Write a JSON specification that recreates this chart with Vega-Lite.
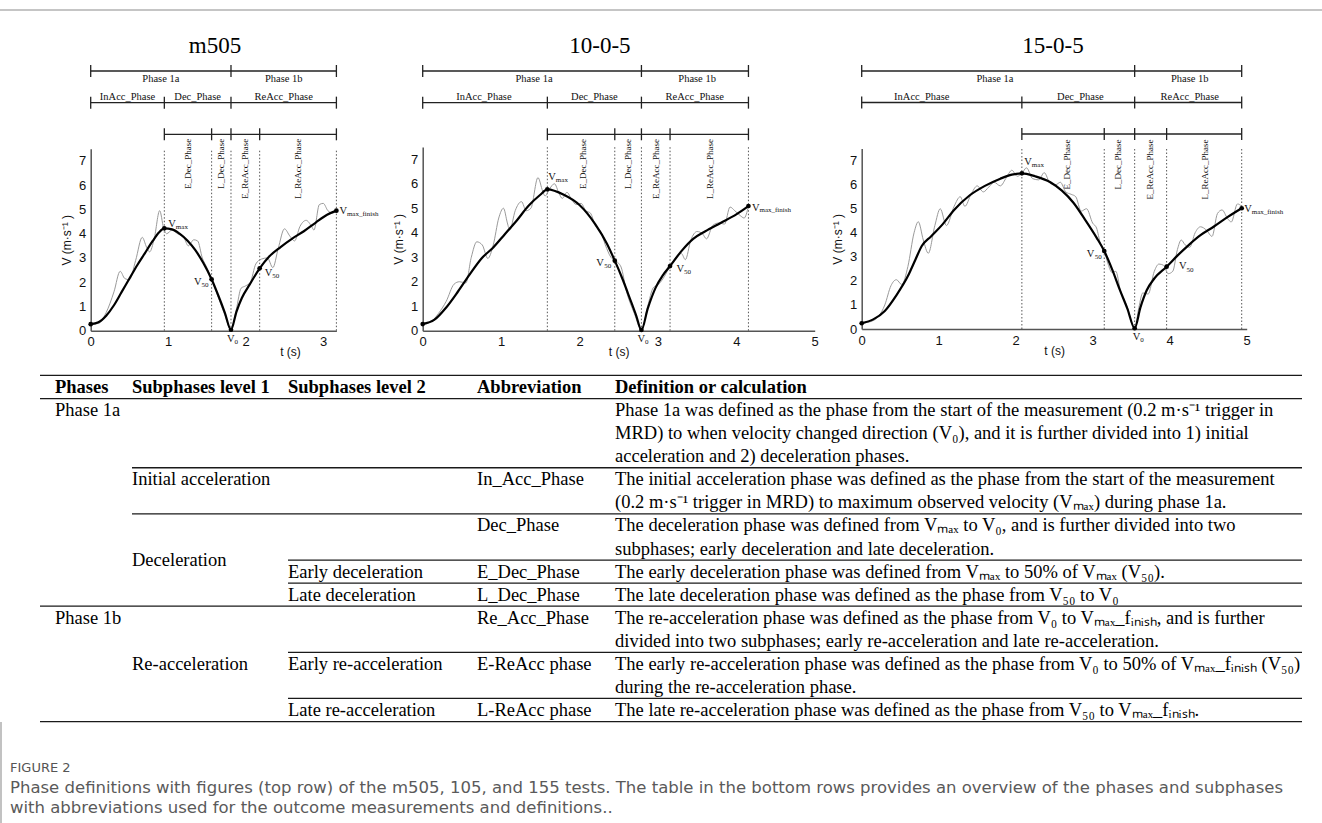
{
"$schema": "https://vega.github.io/schema/vega-lite/v6.json",
"width": 1322,
"height": 823,
"autosize": {"type": "none"},
"padding": 0,
"background": "white",
"config": {
  "view": {"stroke": null},
  "axis": {"grid": false, "ticks": false, "domainColor": "#555", "domainWidth": 1.5, "labelFont": "Liberation Sans", "labelFontSize": 13, "labelColor": "#111", "labelPadding": 5, "labelFlush": false, "titleFont": "Liberation Sans", "titleFontSize": 12, "titleFontWeight": "normal", "titleColor": "#111"},
  "text": {"font": "Liberation Serif", "color": "#111"}
},
"datasets": {
  "p1": [
    {"kind":"smooth","t":0,"v":0.27},{"kind":"smooth","t":0.1,"v":0.35},{"kind":"smooth","t":0.2,"v":0.62},{"kind":"smooth","t":0.3,"v":1.05},{"kind":"smooth","t":0.4,"v":1.6},{"kind":"smooth","t":0.5,"v":2.15},{"kind":"smooth","t":0.6,"v":2.7},{"kind":"smooth","t":0.7,"v":3.2},{"kind":"smooth","t":0.8,"v":3.7},{"kind":"smooth","t":0.88,"v":4.05},{"kind":"smooth","t":0.95,"v":4.22},{"kind":"smooth","t":1.05,"v":4.18},{"kind":"smooth","t":1.15,"v":3.99},{"kind":"smooth","t":1.25,"v":3.71},{"kind":"smooth","t":1.35,"v":3.32},{"kind":"smooth","t":1.45,"v":2.81},{"kind":"smooth","t":1.56,"v":2.12},{"kind":"smooth","t":1.65,"v":1.42},{"kind":"smooth","t":1.73,"v":0.75},{"kind":"smooth","t":1.81,"v":0.04},{"kind":"smooth","t":1.88,"v":0.78},{"kind":"smooth","t":1.95,"v":1.35},{"kind":"smooth","t":2.05,"v":1.9},{"kind":"smooth","t":2.18,"v":2.57},{"kind":"smooth","t":2.3,"v":3.05},{"kind":"smooth","t":2.45,"v":3.45},{"kind":"smooth","t":2.6,"v":3.8},{"kind":"smooth","t":2.75,"v":4.1},{"kind":"smooth","t":2.9,"v":4.45},{"kind":"smooth","t":3.05,"v":4.78},{"kind":"smooth","t":3.17,"v":4.95},
    {"kind":"raw","t":0,"v":0.27},{"kind":"raw","t":0.1,"v":0.3},{"kind":"raw","t":0.2,"v":0.75},{"kind":"raw","t":0.3,"v":1.6},{"kind":"raw","t":0.38,"v":2.45},{"kind":"raw","t":0.44,"v":2.15},{"kind":"raw","t":0.5,"v":2.1},{"kind":"raw","t":0.58,"v":2.9},{"kind":"raw","t":0.665,"v":3.85},{"kind":"raw","t":0.72,"v":3.45},{"kind":"raw","t":0.76,"v":3.25},{"kind":"raw","t":0.82,"v":3.8},{"kind":"raw","t":0.89,"v":4.95},{"kind":"raw","t":0.94,"v":4.25},{"kind":"raw","t":0.98,"v":4.0},{"kind":"raw","t":1.05,"v":4.15},{"kind":"raw","t":1.12,"v":4.0},{"kind":"raw","t":1.2,"v":3.85},{"kind":"raw","t":1.26,"v":3.5},{"kind":"raw","t":1.33,"v":3.75},{"kind":"raw","t":1.38,"v":3.7},{"kind":"raw","t":1.44,"v":3.0},{"kind":"raw","t":1.5,"v":2.6},{"kind":"raw","t":1.56,"v":2.1},{"kind":"raw","t":1.65,"v":1.35},{"kind":"raw","t":1.73,"v":0.65},{"kind":"raw","t":1.81,"v":0.04},{"kind":"raw","t":1.88,"v":0.9},{"kind":"raw","t":1.94,"v":1.75},{"kind":"raw","t":2.0,"v":1.85},{"kind":"raw","t":2.06,"v":2.0},{"kind":"raw","t":2.13,"v":2.75},{"kind":"raw","t":2.2,"v":2.95},{"kind":"raw","t":2.28,"v":3.0},{"kind":"raw","t":2.35,"v":2.6},{"kind":"raw","t":2.42,"v":3.4},{"kind":"raw","t":2.5,"v":4.2},{"kind":"raw","t":2.57,"v":3.9},{"kind":"raw","t":2.63,"v":3.7},{"kind":"raw","t":2.7,"v":4.3},{"kind":"raw","t":2.78,"v":4.55},{"kind":"raw","t":2.85,"v":4.3},{"kind":"raw","t":2.88,"v":4.15},{"kind":"raw","t":2.95,"v":5.2},{"kind":"raw","t":3.0,"v":5.25},{"kind":"raw","t":3.06,"v":4.95},{"kind":"raw","t":3.12,"v":4.85},{"kind":"raw","t":3.17,"v":4.95},
    {"kind":"bound","t":0.95},{"kind":"bound","t":1.56},{"kind":"bound","t":1.81},{"kind":"bound","t":2.18},{"kind":"bound","t":3.17},
    {"kind":"phase","t":1.255,"label":"E_Dec_Phase"},{"kind":"phase","t":1.685,"label":"L_Dec_Phase"},{"kind":"phase","t":1.995,"label":"E_ReAcc_Phase"},{"kind":"phase","t":2.675,"label":"L_ReAcc_Phase"},
    {"kind":"pt","t":0,"v":0.27,"pos":"none"},{"kind":"pt","t":0.95,"v":4.22,"pos":"ur","sub":"max"},{"kind":"pt","t":1.56,"v":2.12,"pos":"l","sub":"50"},{"kind":"pt","t":1.81,"v":0.04,"pos":"b","sub":"0"},{"kind":"pt","t":2.18,"v":2.57,"pos":"rd","sub":"50"},{"kind":"pt","t":3.17,"v":4.95,"pos":"r","sub":"max_finish"}
  ],
  "b1": [
    {"kind":"seg","level":1,"t":0,"t2":3.17},{"kind":"seg","level":2,"t":0,"t2":3.17},{"kind":"seg","level":3,"t":0.95,"t2":3.17},
    {"kind":"tick","level":1,"t":0},{"kind":"tick","level":1,"t":1.81},{"kind":"tick","level":1,"t":3.17},
    {"kind":"tick","level":2,"t":0},{"kind":"tick","level":2,"t":0.95},{"kind":"tick","level":2,"t":1.81},{"kind":"tick","level":2,"t":3.17},
    {"kind":"tick","level":3,"t":0.95},{"kind":"tick","level":3,"t":1.56},{"kind":"tick","level":3,"t":1.81},{"kind":"tick","level":3,"t":2.18},{"kind":"tick","level":3,"t":3.17},
    {"kind":"lab","level":1,"t":0.905,"label":"Phase 1a"},{"kind":"lab","level":1,"t":2.49,"label":"Phase 1b"},
    {"kind":"lab","level":2,"t":0.475,"label":"InAcc_Phase"},{"kind":"lab","level":2,"t":1.38,"label":"Dec_Phase"},{"kind":"lab","level":2,"t":2.49,"label":"ReAcc_Phase"}
  ],
  "p2": [
    {"kind":"smooth","t":0,"v":0.27},{"kind":"smooth","t":0.15,"v":0.45},{"kind":"smooth","t":0.3,"v":0.95},{"kind":"smooth","t":0.45,"v":1.6},{"kind":"smooth","t":0.6,"v":2.3},{"kind":"smooth","t":0.75,"v":2.95},{"kind":"smooth","t":0.9,"v":3.4},{"kind":"smooth","t":1.05,"v":3.95},{"kind":"smooth","t":1.2,"v":4.5},{"kind":"smooth","t":1.35,"v":5.1},{"kind":"smooth","t":1.5,"v":5.55},{"kind":"smooth","t":1.59,"v":5.77},{"kind":"smooth","t":1.8,"v":5.55},{"kind":"smooth","t":2.0,"v":5.13},{"kind":"smooth","t":2.2,"v":4.35},{"kind":"smooth","t":2.35,"v":3.55},{"kind":"smooth","t":2.45,"v":2.86},{"kind":"smooth","t":2.55,"v":2.1},{"kind":"smooth","t":2.65,"v":1.25},{"kind":"smooth","t":2.72,"v":0.65},{"kind":"smooth","t":2.79,"v":0.03},{"kind":"smooth","t":2.87,"v":0.9},{"kind":"smooth","t":2.97,"v":1.75},{"kind":"smooth","t":3.06,"v":2.25},{"kind":"smooth","t":3.155,"v":2.64},{"kind":"smooth","t":3.3,"v":3.25},{"kind":"smooth","t":3.45,"v":3.75},{"kind":"smooth","t":3.6,"v":4.05},{"kind":"smooth","t":3.8,"v":4.4},{"kind":"smooth","t":4.0,"v":4.75},{"kind":"smooth","t":4.155,"v":5.09},
    {"kind":"raw","t":0,"v":0.27},{"kind":"raw","t":0.1,"v":0.35},{"kind":"raw","t":0.2,"v":0.7},{"kind":"raw","t":0.3,"v":1.2},{"kind":"raw","t":0.4,"v":1.9},{"kind":"raw","t":0.47,"v":2.0},{"kind":"raw","t":0.55,"v":1.95},{"kind":"raw","t":0.62,"v":3.0},{"kind":"raw","t":0.69,"v":3.63},{"kind":"raw","t":0.76,"v":3.5},{"kind":"raw","t":0.83,"v":2.95},{"kind":"raw","t":0.9,"v":3.5},{"kind":"raw","t":0.97,"v":4.6},{"kind":"raw","t":1.03,"v":5.0},{"kind":"raw","t":1.08,"v":4.4},{"kind":"raw","t":1.11,"v":4.1},{"kind":"raw","t":1.18,"v":4.9},{"kind":"raw","t":1.26,"v":5.27},{"kind":"raw","t":1.32,"v":4.9},{"kind":"raw","t":1.38,"v":5.0},{"kind":"raw","t":1.47,"v":6.25},{"kind":"raw","t":1.53,"v":5.7},{"kind":"raw","t":1.56,"v":5.5},{"kind":"raw","t":1.62,"v":5.8},{"kind":"raw","t":1.68,"v":6.0},{"kind":"raw","t":1.74,"v":5.6},{"kind":"raw","t":1.78,"v":5.4},{"kind":"raw","t":1.84,"v":5.65},{"kind":"raw","t":1.9,"v":5.35},{"kind":"raw","t":1.96,"v":5.15},{"kind":"raw","t":2.02,"v":5.2},{"kind":"raw","t":2.08,"v":4.9},{"kind":"raw","t":2.14,"v":4.8},{"kind":"raw","t":2.2,"v":4.3},{"kind":"raw","t":2.27,"v":4.05},{"kind":"raw","t":2.33,"v":3.5},{"kind":"raw","t":2.4,"v":3.0},{"kind":"raw","t":2.45,"v":2.86},{"kind":"raw","t":2.5,"v":2.75},{"kind":"raw","t":2.53,"v":2.6},{"kind":"raw","t":2.6,"v":1.6},{"kind":"raw","t":2.7,"v":0.7},{"kind":"raw","t":2.79,"v":0.03},{"kind":"raw","t":2.87,"v":1.0},{"kind":"raw","t":2.94,"v":1.75},{"kind":"raw","t":3.01,"v":1.9},{"kind":"raw","t":3.08,"v":2.2},{"kind":"raw","t":3.155,"v":2.64},{"kind":"raw","t":3.22,"v":2.95},{"kind":"raw","t":3.3,"v":3.15},{"kind":"raw","t":3.35,"v":2.9},{"kind":"raw","t":3.42,"v":3.7},{"kind":"raw","t":3.5,"v":4.05},{"kind":"raw","t":3.57,"v":3.95},{"kind":"raw","t":3.62,"v":3.75},{"kind":"raw","t":3.7,"v":4.3},{"kind":"raw","t":3.78,"v":4.4},{"kind":"raw","t":3.85,"v":4.35},{"kind":"raw","t":3.92,"v":5.05},{"kind":"raw","t":3.98,"v":4.9},{"kind":"raw","t":4.05,"v":4.7},{"kind":"raw","t":4.1,"v":4.6},{"kind":"raw","t":4.155,"v":5.09},
    {"kind":"bound","t":1.59},{"kind":"bound","t":2.45},{"kind":"bound","t":2.79},{"kind":"bound","t":3.155},{"kind":"bound","t":4.155},
    {"kind":"phase","t":2.04,"label":"E_Dec_Phase"},{"kind":"phase","t":2.62,"label":"L_Dec_Phase"},{"kind":"phase","t":2.97,"label":"E_ReAcc_Phase"},{"kind":"phase","t":3.66,"label":"L_ReAcc_Phase"},
    {"kind":"pt","t":0,"v":0.27,"pos":"none"},{"kind":"pt","t":1.59,"v":5.77,"pos":"ur","sub":"max"},{"kind":"pt","t":2.45,"v":2.86,"pos":"l","sub":"50"},{"kind":"pt","t":2.79,"v":0.03,"pos":"b","sub":"0"},{"kind":"pt","t":3.155,"v":2.64,"pos":"rd","sub":"50"},{"kind":"pt","t":4.155,"v":5.09,"pos":"r","sub":"max_finish"}
  ],
  "b2": [
    {"kind":"seg","level":1,"t":0,"t2":4.155},{"kind":"seg","level":2,"t":0,"t2":4.155},{"kind":"seg","level":3,"t":1.59,"t2":4.155},
    {"kind":"tick","level":1,"t":0},{"kind":"tick","level":1,"t":2.79},{"kind":"tick","level":1,"t":4.155},
    {"kind":"tick","level":2,"t":0},{"kind":"tick","level":2,"t":1.59},{"kind":"tick","level":2,"t":2.79},{"kind":"tick","level":2,"t":4.155},
    {"kind":"tick","level":3,"t":1.59},{"kind":"tick","level":3,"t":2.45},{"kind":"tick","level":3,"t":2.79},{"kind":"tick","level":3,"t":3.155},{"kind":"tick","level":3,"t":4.155},
    {"kind":"lab","level":1,"t":1.42,"label":"Phase 1a"},{"kind":"lab","level":1,"t":3.5,"label":"Phase 1b"},
    {"kind":"lab","level":2,"t":0.78,"label":"InAcc_Phase"},{"kind":"lab","level":2,"t":2.19,"label":"Dec_Phase"},{"kind":"lab","level":2,"t":3.47,"label":"ReAcc_Phase"}
  ],
  "p3": [
    {"kind":"smooth","t":0,"v":0.24},{"kind":"smooth","t":0.15,"v":0.4},{"kind":"smooth","t":0.3,"v":0.75},{"kind":"smooth","t":0.45,"v":1.4},{"kind":"smooth","t":0.6,"v":2.2},{"kind":"smooth","t":0.7,"v":2.9},{"kind":"smooth","t":0.78,"v":3.45},{"kind":"smooth","t":0.9,"v":3.85},{"kind":"smooth","t":1.05,"v":4.35},{"kind":"smooth","t":1.2,"v":4.95},{"kind":"smooth","t":1.4,"v":5.55},{"kind":"smooth","t":1.6,"v":5.95},{"kind":"smooth","t":1.8,"v":6.25},{"kind":"smooth","t":1.95,"v":6.42},{"kind":"smooth","t":2.08,"v":6.47},{"kind":"smooth","t":2.25,"v":6.35},{"kind":"smooth","t":2.45,"v":6.1},{"kind":"smooth","t":2.6,"v":5.75},{"kind":"smooth","t":2.75,"v":5.25},{"kind":"smooth","t":2.9,"v":4.55},{"kind":"smooth","t":3.05,"v":3.8},{"kind":"smooth","t":3.15,"v":3.24},{"kind":"smooth","t":3.25,"v":2.5},{"kind":"smooth","t":3.35,"v":1.65},{"kind":"smooth","t":3.45,"v":0.85},{"kind":"smooth","t":3.545,"v":0.03},{"kind":"smooth","t":3.62,"v":0.9},{"kind":"smooth","t":3.7,"v":1.6},{"kind":"smooth","t":3.8,"v":2.1},{"kind":"smooth","t":3.96,"v":2.59},{"kind":"smooth","t":4.1,"v":3.05},{"kind":"smooth","t":4.25,"v":3.5},{"kind":"smooth","t":4.4,"v":3.9},{"kind":"smooth","t":4.57,"v":4.25},{"kind":"smooth","t":4.75,"v":4.65},{"kind":"smooth","t":4.935,"v":5.02},
    {"kind":"raw","t":0,"v":0.24},{"kind":"raw","t":0.15,"v":0.35},{"kind":"raw","t":0.3,"v":1.0},{"kind":"raw","t":0.38,"v":1.8},{"kind":"raw","t":0.45,"v":2.05},{"kind":"raw","t":0.52,"v":1.85},{"kind":"raw","t":0.6,"v":2.6},{"kind":"raw","t":0.68,"v":4.0},{"kind":"raw","t":0.735,"v":4.46},{"kind":"raw","t":0.8,"v":3.7},{"kind":"raw","t":0.865,"v":3.15},{"kind":"raw","t":0.95,"v":4.3},{"kind":"raw","t":1.02,"v":5.0},{"kind":"raw","t":1.1,"v":4.3},{"kind":"raw","t":1.2,"v":5.1},{"kind":"raw","t":1.28,"v":5.5},{"kind":"raw","t":1.34,"v":5.1},{"kind":"raw","t":1.42,"v":5.6},{"kind":"raw","t":1.5,"v":5.95},{"kind":"raw","t":1.58,"v":5.7},{"kind":"raw","t":1.65,"v":5.9},{"kind":"raw","t":1.72,"v":6.1},{"kind":"raw","t":1.8,"v":5.95},{"kind":"raw","t":1.88,"v":6.3},{"kind":"raw","t":1.95,"v":6.6},{"kind":"raw","t":2.02,"v":6.35},{"kind":"raw","t":2.08,"v":6.47},{"kind":"raw","t":2.14,"v":6.7},{"kind":"raw","t":2.22,"v":6.25},{"kind":"raw","t":2.3,"v":6.2},{"kind":"raw","t":2.37,"v":6.5},{"kind":"raw","t":2.45,"v":6.05},{"kind":"raw","t":2.52,"v":6.0},{"kind":"raw","t":2.58,"v":6.1},{"kind":"raw","t":2.65,"v":5.7},{"kind":"raw","t":2.72,"v":5.6},{"kind":"raw","t":2.78,"v":5.5},{"kind":"raw","t":2.85,"v":4.9},{"kind":"raw","t":2.92,"v":5.0},{"kind":"raw","t":3.0,"v":4.4},{"kind":"raw","t":3.05,"v":4.2},{"kind":"raw","t":3.1,"v":3.55},{"kind":"raw","t":3.15,"v":3.24},{"kind":"raw","t":3.2,"v":2.7},{"kind":"raw","t":3.25,"v":2.35},{"kind":"raw","t":3.3,"v":2.4},{"kind":"raw","t":3.36,"v":1.6},{"kind":"raw","t":3.45,"v":0.9},{"kind":"raw","t":3.545,"v":0.03},{"kind":"raw","t":3.6,"v":0.9},{"kind":"raw","t":3.65,"v":1.5},{"kind":"raw","t":3.72,"v":1.45},{"kind":"raw","t":3.8,"v":2.4},{"kind":"raw","t":3.86,"v":2.7},{"kind":"raw","t":3.92,"v":2.65},{"kind":"raw","t":3.98,"v":2.3},{"kind":"raw","t":4.04,"v":2.4},{"kind":"raw","t":4.1,"v":3.3},{"kind":"raw","t":4.15,"v":3.7},{"kind":"raw","t":4.2,"v":3.5},{"kind":"raw","t":4.26,"v":3.4},{"kind":"raw","t":4.33,"v":4.0},{"kind":"raw","t":4.4,"v":4.25},{"kind":"raw","t":4.48,"v":4.1},{"kind":"raw","t":4.55,"v":3.85},{"kind":"raw","t":4.62,"v":4.8},{"kind":"raw","t":4.68,"v":4.95},{"kind":"raw","t":4.75,"v":4.6},{"kind":"raw","t":4.8,"v":4.45},{"kind":"raw","t":4.88,"v":5.2},{"kind":"raw","t":4.935,"v":5.1},
    {"kind":"bound","t":2.08},{"kind":"bound","t":3.15},{"kind":"bound","t":3.545},{"kind":"bound","t":3.96},{"kind":"bound","t":4.935},
    {"kind":"phase","t":2.66,"label":"E_Dec_Phase"},{"kind":"phase","t":3.33,"label":"L_Dec_Phase"},{"kind":"phase","t":3.745,"label":"E_ReAcc_Phase"},{"kind":"phase","t":4.46,"label":"L_ReAcc_Phase"},
    {"kind":"pt","t":0,"v":0.24,"pos":"none"},{"kind":"pt","t":2.08,"v":6.47,"pos":"ur","sub":"max"},{"kind":"pt","t":3.15,"v":3.24,"pos":"l","sub":"50"},{"kind":"pt","t":3.545,"v":0.03,"pos":"b","sub":"0"},{"kind":"pt","t":3.96,"v":2.59,"pos":"rd","sub":"50"},{"kind":"pt","t":4.935,"v":5.02,"pos":"r","sub":"max_finish"}
  ],
  "b3": [
    {"kind":"seg","level":1,"t":0,"t2":4.935},{"kind":"seg","level":2,"t":0,"t2":4.935},{"kind":"seg","level":3,"t":2.08,"t2":4.935},
    {"kind":"tick","level":1,"t":0},{"kind":"tick","level":1,"t":3.545},{"kind":"tick","level":1,"t":4.935},
    {"kind":"tick","level":2,"t":0},{"kind":"tick","level":2,"t":2.08},{"kind":"tick","level":2,"t":3.545},{"kind":"tick","level":2,"t":4.935},
    {"kind":"tick","level":3,"t":2.08},{"kind":"tick","level":3,"t":3.15},{"kind":"tick","level":3,"t":3.545},{"kind":"tick","level":3,"t":3.96},{"kind":"tick","level":3,"t":4.935},
    {"kind":"lab","level":1,"t":1.73,"label":"Phase 1a"},{"kind":"lab","level":1,"t":4.26,"label":"Phase 1b"},
    {"kind":"lab","level":2,"t":0.78,"label":"InAcc_Phase"},{"kind":"lab","level":2,"t":2.84,"label":"Dec_Phase"},{"kind":"lab","level":2,"t":4.26,"label":"ReAcc_Phase"}
  ],
  "table": [
    {"kind":"rule","c":0,"c2":6,"line":-0.5},{"kind":"rule","c":0,"c2":6,"line":0.5},{"kind":"rule","c":2,"c2":6,"line":3.5},{"kind":"rule","c":2,"c2":6,"line":5.5},{"kind":"rule","c":3,"c2":6,"line":7.5},{"kind":"rule","c":3,"c2":6,"line":8.5},{"kind":"rule","c":0,"c2":6,"line":9.5},{"kind":"rule","c":3,"c2":6,"line":11.5},{"kind":"rule","c":3,"c2":6,"line":13.5},{"kind":"rule","c":0,"c2":6,"line":14.5},
    {"kind":"head","c":1,"line":0,"text":"Phases"},{"kind":"head","c":2,"line":0,"text":"Subphases level 1"},{"kind":"head","c":3,"line":0,"text":"Subphases level 2"},{"kind":"head","c":4,"line":0,"text":"Abbreviation"},{"kind":"head","c":5,"line":0,"text":"Definition or calculation"},
    {"kind":"cell","c":1,"line":1,"text":"Phase 1a"},
    {"kind":"cell","c":5,"line":1,"text":"Phase 1a was defined as the phase from the start of the measurement  (0.2 m·s⁻¹ trigger in"},
    {"kind":"cell","c":5,"line":2,"text":"MRD) to when velocity changed direction (V₀), and it is further divided into 1) initial"},
    {"kind":"cell","c":5,"line":3,"text":"acceleration and 2) deceleration phases."},
    {"kind":"cell","c":2,"line":4,"text":"Initial acceleration"},
    {"kind":"cell","c":4,"line":4,"text":"In_Acc_Phase"},
    {"kind":"cell","c":5,"line":4,"text":"The initial acceleration phase was defined as the phase from the start of the measurement"},
    {"kind":"cell","c":5,"line":5,"text":"(0.2 m·s⁻¹ trigger in MRD) to maximum observed velocity (Vₘₐₓ) during phase 1a."},
    {"kind":"cell","c":4,"line":6,"text":"Dec_Phase"},
    {"kind":"cell","c":5,"line":6,"text":"The deceleration phase was defined from Vₘₐₓ to V₀, and is further divided into two"},
    {"kind":"cell","c":5,"line":7,"text":"subphases;  early deceleration and late deceleration."},
    {"kind":"cell","c":2,"line":7.5,"text":"Deceleration"},
    {"kind":"cell","c":3,"line":8,"text":"Early deceleration"},
    {"kind":"cell","c":4,"line":8,"text":"E_Dec_Phase"},
    {"kind":"cell","c":5,"line":8,"text":"The early deceleration phase was defined from Vₘₐₓ to 50% of Vₘₐₓ (V₅₀)."},
    {"kind":"cell","c":3,"line":9,"text":"Late deceleration"},
    {"kind":"cell","c":4,"line":9,"text":"L_Dec_Phase"},
    {"kind":"cell","c":5,"line":9,"text":"The late deceleration phase was defined as the phase from V₅₀ to V₀"},
    {"kind":"cell","c":1,"line":10,"text":"Phase 1b"},
    {"kind":"cell","c":4,"line":10,"text":"Re_Acc_Phase"},
    {"kind":"cell","c":5,"line":10,"text":"The re-acceleration phase was defined as the phase from V₀ to Vₘₐₓ_fᵢₙᵢₛₕ, and is further"},
    {"kind":"cell","c":5,"line":11,"text":"divided into two subphases; early re-acceleration and late re-acceleration."},
    {"kind":"cell","c":2,"line":12,"text":"Re-acceleration"},
    {"kind":"cell","c":3,"line":12,"text":"Early re-acceleration"},
    {"kind":"cell","c":4,"line":12,"text":"E-ReAcc phase"},
    {"kind":"cell","c":5,"line":12,"text":"The early re-acceleration phase was defined as the phase from V₀ to 50% of Vₘₐₓ_fᵢₙᵢₛₕ (V₅₀)"},
    {"kind":"cell","c":5,"line":13,"text":"during the re-acceleration phase."},
    {"kind":"cell","c":3,"line":14,"text":"Late re-acceleration"},
    {"kind":"cell","c":4,"line":14,"text":"L-ReAcc phase"},
    {"kind":"cell","c":5,"line":14,"text":"The late re-acceleration phase was defined as the phase from V₅₀ to Vₘₐₓ_fᵢₙᵢₛₕ."}
  ],
  "caption": [
    {"kind":"label","line":0,"text":"FIGURE 2"},
    {"kind":"body","line":1,"text":"Phase definitions with figures (top row) of the m505, 105, and 155 tests. The table in the bottom rows provides an overview of the phases and subphases"},
    {"kind":"body","line":2,"text":"with abbreviations used for the outcome measurements and definitions.."}
  ]
},
"resolve": {"scale": {"x": "independent", "y": "independent"}, "axis": {"x": "independent", "y": "independent"}},
"layer": [
  {"data": {"values": [{}]}, "mark": {"type": "rule", "color": "#8c8c8c", "strokeWidth": 1.2},
   "encoding": {"y": {"datum": 0, "type": "quantitative", "scale": {"domain": [0, 1], "range": [10, 11]}, "axis": null}}},
  {"data": {"values": [{}]}, "mark": {"type": "rule", "color": "#999", "strokeWidth": 1.2},
   "encoding": {"x": {"datum": 0, "type": "quantitative", "scale": {"domain": [0, 1], "range": [1, 2]}, "axis": null},
                "y": {"datum": 0, "type": "quantitative", "scale": {"domain": [0, 1], "range": [722, 823]}, "axis": null},
                "y2": {"datum": 1}}},

  {"data": {"values": [{"name": "m505"}]}, "mark": {"type": "text", "fontSize": 23, "baseline": "alphabetic", "color": "#000"},
   "encoding": {"x": {"datum": 1.604, "type": "quantitative", "scale": {"domain": [0, 3.17], "range": [90.7, 336.4]}, "axis": null},
                "y": {"datum": 0.444, "type": "quantitative", "scale": {"domain": [1, 3], "range": [71, 134.3]}, "axis": null},
                "text": {"field": "name"}}},
  {"data": {"name": "b1"},
   "encoding": {"x": {"field": "t", "type": "quantitative", "scale": {"domain": [0, 3.17], "range": [90.7, 336.4], "nice": false, "zero": false}, "axis": null},
                "y": {"field": "level", "type": "quantitative", "scale": {"domain": [1, 3], "range": [71, 134.3], "nice": false, "zero": false}, "axis": null}},
   "layer": [
     {"transform": [{"filter": "datum.kind==='seg'"}], "mark": {"type": "rule", "color": "#222", "strokeWidth": 1.3}, "encoding": {"x2": {"field": "t2"}}},
     {"transform": [{"filter": "datum.kind==='tick'"}], "mark": {"type": "tick", "orient": "vertical", "color": "#222", "size": 12, "thickness": 1.3, "opacity": 1}},
     {"transform": [{"filter": "datum.kind==='lab' && datum.level===1"}], "mark": {"type": "text", "fontSize": 10.5, "baseline": "alphabetic", "dy": 10.5}, "encoding": {"text": {"field": "label"}}},
     {"transform": [{"filter": "datum.kind==='lab' && datum.level===2"}], "mark": {"type": "text", "fontSize": 10.5, "baseline": "alphabetic", "dy": -2.7}, "encoding": {"text": {"field": "label"}}}
   ]},
  {"data": {"name": "p1"},
   "encoding": {"x": {"field": "t", "type": "quantitative", "scale": {"domain": [0, 3.17], "range": [90.7, 336.4], "nice": false, "zero": false}, "axis": null}},
   "layer": [
     {"transform": [{"filter": "datum.kind==='bound'"}], "mark": {"type": "rule", "color": "#444", "strokeWidth": 0.9, "strokeDash": [1.5, 2]},
      "encoding": {"y": {"datum": 0, "type": "quantitative", "scale": {"domain": [0, 7.5], "range": [330.7, 148.8], "nice": false, "zero": false}, "axis": null}, "y2": {"datum": 7.5}}},
     {"transform": [{"filter": "datum.kind==='phase'"}], "mark": {"type": "text", "angle": 270, "align": "right", "baseline": "middle", "dx": 10, "fontSize": 9},
      "encoding": {"y": {"datum": 7.5, "type": "quantitative", "scale": {"domain": [0, 7.5], "range": [330.7, 148.8], "nice": false, "zero": false}, "axis": null}, "text": {"field": "label"}}}
   ]},
  {"data": {"name": "p1"},
   "encoding": {
     "x": {"field": "t", "type": "quantitative", "scale": {"domain": [0, 3.17], "range": [90.7, 336.4], "nice": false, "zero": false}, "axis": {"orient": "bottom", "offset": -492.3, "values": [0, 1, 2, 3], "title": "t (s)", "titleX": 290, "titlePadding": -2}},
     "y": {"field": "v", "type": "quantitative", "scale": {"domain": [0, 7.5], "range": [330.7, 148.8], "nice": false, "zero": false}, "axis": {"orient": "left", "offset": -90.7, "values": [0, 1, 2, 3, 4, 5, 6, 7], "title": "V (m·s⁻¹ )", "titlePadding": 5}}},
   "layer": [
     {"transform": [{"filter": "datum.kind==='raw'"}], "mark": {"type": "line", "color": "#9a9a9a", "strokeWidth": 1, "interpolate": "monotone"}},
     {"transform": [{"filter": "datum.kind==='smooth'"}], "mark": {"type": "line", "color": "#000", "strokeWidth": 2.2, "interpolate": "monotone"}},
     {"transform": [{"filter": "datum.kind==='pt'"}], "mark": {"type": "point", "filled": true, "color": "#000", "size": 22, "opacity": 1}},
     {"transform": [{"filter": "datum.pos==='ur'"}], "mark": {"type": "text", "text": "V", "align": "left", "fontSize": 10.5, "dx": 4, "dy": -4}},
     {"transform": [{"filter": "datum.pos==='ur'"}], "mark": {"type": "text", "align": "left", "fontSize": 7, "dx": 11.5, "dy": -1}, "encoding": {"text": {"field": "sub"}}},
     {"transform": [{"filter": "datum.pos==='l'"}], "mark": {"type": "text", "text": "V", "align": "right", "fontSize": 10.5, "dx": -10, "dy": 3}},
     {"transform": [{"filter": "datum.pos==='l'"}], "mark": {"type": "text", "align": "right", "fontSize": 7, "dx": -3, "dy": 6}, "encoding": {"text": {"field": "sub"}}},
     {"transform": [{"filter": "datum.pos==='b'"}], "mark": {"type": "text", "text": "V", "align": "left", "fontSize": 10.5, "dx": -4, "dy": 9}},
     {"transform": [{"filter": "datum.pos==='b'"}], "mark": {"type": "text", "align": "left", "fontSize": 7, "dx": 3.5, "dy": 12}, "encoding": {"text": {"field": "sub"}}},
     {"transform": [{"filter": "datum.pos==='rd'"}], "mark": {"type": "text", "text": "V", "align": "left", "fontSize": 10.5, "dx": 5, "dy": 5}},
     {"transform": [{"filter": "datum.pos==='rd'"}], "mark": {"type": "text", "align": "left", "fontSize": 7, "dx": 12.5, "dy": 8}, "encoding": {"text": {"field": "sub"}}},
     {"transform": [{"filter": "datum.pos==='r'"}], "mark": {"type": "text", "text": "V", "align": "left", "fontSize": 10.5, "dx": 3, "dy": 0}},
     {"transform": [{"filter": "datum.pos==='r'"}], "mark": {"type": "text", "align": "left", "fontSize": 7, "dx": 10.5, "dy": 3}, "encoding": {"text": {"field": "sub"}}}
   ]},

  {"data": {"values": [{"name": "10-0-5"}]}, "mark": {"type": "text", "fontSize": 23, "baseline": "alphabetic", "color": "#000"},
   "encoding": {"x": {"datum": 2.261, "type": "quantitative", "scale": {"domain": [0, 5], "range": [422.7, 814.7]}, "axis": null},
                "y": {"datum": 0.444, "type": "quantitative", "scale": {"domain": [1, 3], "range": [71, 134.3]}, "axis": null},
                "text": {"field": "name"}}},
  {"data": {"name": "b2"},
   "encoding": {"x": {"field": "t", "type": "quantitative", "scale": {"domain": [0, 5], "range": [422.7, 814.7], "nice": false, "zero": false}, "axis": null},
                "y": {"field": "level", "type": "quantitative", "scale": {"domain": [1, 3], "range": [71, 134.3], "nice": false, "zero": false}, "axis": null}},
   "layer": [
     {"transform": [{"filter": "datum.kind==='seg'"}], "mark": {"type": "rule", "color": "#222", "strokeWidth": 1.3}, "encoding": {"x2": {"field": "t2"}}},
     {"transform": [{"filter": "datum.kind==='tick'"}], "mark": {"type": "tick", "orient": "vertical", "color": "#222", "size": 12, "thickness": 1.3, "opacity": 1}},
     {"transform": [{"filter": "datum.kind==='lab' && datum.level===1"}], "mark": {"type": "text", "fontSize": 10.5, "baseline": "alphabetic", "dy": 10.5}, "encoding": {"text": {"field": "label"}}},
     {"transform": [{"filter": "datum.kind==='lab' && datum.level===2"}], "mark": {"type": "text", "fontSize": 10.5, "baseline": "alphabetic", "dy": -2.7}, "encoding": {"text": {"field": "label"}}}
   ]},
  {"data": {"name": "p2"},
   "encoding": {"x": {"field": "t", "type": "quantitative", "scale": {"domain": [0, 5], "range": [422.7, 814.7], "nice": false, "zero": false}, "axis": null}},
   "layer": [
     {"transform": [{"filter": "datum.kind==='bound'"}], "mark": {"type": "rule", "color": "#444", "strokeWidth": 0.9, "strokeDash": [1.5, 2]},
      "encoding": {"y": {"datum": 0, "type": "quantitative", "scale": {"domain": [0, 7.5], "range": [330.7, 147], "nice": false, "zero": false}, "axis": null}, "y2": {"datum": 7.5}}},
     {"transform": [{"filter": "datum.kind==='phase'"}], "mark": {"type": "text", "angle": 270, "align": "right", "baseline": "middle", "dx": 8, "fontSize": 9},
      "encoding": {"y": {"datum": 7.5, "type": "quantitative", "scale": {"domain": [0, 7.5], "range": [330.7, 147], "nice": false, "zero": false}, "axis": null}, "text": {"field": "label"}}}
   ]},
  {"data": {"name": "p2"},
   "encoding": {
     "x": {"field": "t", "type": "quantitative", "scale": {"domain": [0, 5], "range": [422.7, 814.7], "nice": false, "zero": false}, "axis": {"orient": "bottom", "offset": -492.3, "values": [0, 1, 2, 3, 4, 5], "title": "t (s)", "titlePadding": -2}},
     "y": {"field": "v", "type": "quantitative", "scale": {"domain": [0, 7.5], "range": [330.7, 147], "nice": false, "zero": false}, "axis": {"orient": "left", "offset": -422.7, "values": [0, 1, 2, 3, 4, 5, 6, 7], "title": "V (m·s⁻¹ )", "titlePadding": 5}}},
   "layer": [
     {"transform": [{"filter": "datum.kind==='raw'"}], "mark": {"type": "line", "color": "#9a9a9a", "strokeWidth": 1, "interpolate": "monotone"}},
     {"transform": [{"filter": "datum.kind==='smooth'"}], "mark": {"type": "line", "color": "#000", "strokeWidth": 2.2, "interpolate": "monotone"}},
     {"transform": [{"filter": "datum.kind==='pt'"}], "mark": {"type": "point", "filled": true, "color": "#000", "size": 22, "opacity": 1}},
     {"transform": [{"filter": "datum.pos==='ur'"}], "mark": {"type": "text", "text": "V", "align": "left", "fontSize": 10.5, "dx": 1, "dy": -12}},
     {"transform": [{"filter": "datum.pos==='ur'"}], "mark": {"type": "text", "align": "left", "fontSize": 7, "dx": 8.5, "dy": -9}, "encoding": {"text": {"field": "sub"}}},
     {"transform": [{"filter": "datum.pos==='l'"}], "mark": {"type": "text", "text": "V", "align": "right", "fontSize": 10.5, "dx": -11, "dy": 2}},
     {"transform": [{"filter": "datum.pos==='l'"}], "mark": {"type": "text", "align": "right", "fontSize": 7, "dx": -3.5, "dy": 5}, "encoding": {"text": {"field": "sub"}}},
     {"transform": [{"filter": "datum.pos==='b'"}], "mark": {"type": "text", "text": "V", "align": "left", "fontSize": 10.5, "dx": -4, "dy": 9}},
     {"transform": [{"filter": "datum.pos==='b'"}], "mark": {"type": "text", "align": "left", "fontSize": 7, "dx": 3.5, "dy": 12}, "encoding": {"text": {"field": "sub"}}},
     {"transform": [{"filter": "datum.pos==='rd'"}], "mark": {"type": "text", "text": "V", "align": "left", "fontSize": 10.5, "dx": 6.5, "dy": 3}},
     {"transform": [{"filter": "datum.pos==='rd'"}], "mark": {"type": "text", "align": "left", "fontSize": 7, "dx": 14, "dy": 5.5}, "encoding": {"text": {"field": "sub"}}},
     {"transform": [{"filter": "datum.pos==='r'"}], "mark": {"type": "text", "text": "V", "align": "left", "fontSize": 10.5, "dx": 3.5, "dy": 1.5}},
     {"transform": [{"filter": "datum.pos==='r'"}], "mark": {"type": "text", "align": "left", "fontSize": 7, "dx": 11, "dy": 4}, "encoding": {"text": {"field": "sub"}}}
   ]},

  {"data": {"values": [{"name": "15-0-5"}]}, "mark": {"type": "text", "fontSize": 23, "baseline": "alphabetic", "color": "#000"},
   "encoding": {"x": {"datum": 2.484, "type": "quantitative", "scale": {"domain": [0, 5], "range": [861.7, 1246.7]}, "axis": null},
                "y": {"datum": 0.444, "type": "quantitative", "scale": {"domain": [1, 3], "range": [71, 134.3]}, "axis": null},
                "text": {"field": "name"}}},
  {"data": {"name": "b3"},
   "encoding": {"x": {"field": "t", "type": "quantitative", "scale": {"domain": [0, 5], "range": [861.7, 1246.7], "nice": false, "zero": false}, "axis": null},
                "y": {"field": "level", "type": "quantitative", "scale": {"domain": [1, 3], "range": [71, 134], "nice": false, "zero": false}, "axis": null}},
   "layer": [
     {"transform": [{"filter": "datum.kind==='seg'"}], "mark": {"type": "rule", "color": "#222", "strokeWidth": 1.3}, "encoding": {"x2": {"field": "t2"}}},
     {"transform": [{"filter": "datum.kind==='tick'"}], "mark": {"type": "tick", "orient": "vertical", "color": "#222", "size": 12, "thickness": 1.3, "opacity": 1}},
     {"transform": [{"filter": "datum.kind==='lab' && datum.level===1"}], "mark": {"type": "text", "fontSize": 10.5, "baseline": "alphabetic", "dy": 10.5}, "encoding": {"text": {"field": "label"}}},
     {"transform": [{"filter": "datum.kind==='lab' && datum.level===2"}], "mark": {"type": "text", "fontSize": 10.5, "baseline": "alphabetic", "dy": -2.7}, "encoding": {"text": {"field": "label"}}}
   ]},
  {"data": {"name": "p3"},
   "encoding": {"x": {"field": "t", "type": "quantitative", "scale": {"domain": [0, 5], "range": [861.7, 1246.7], "nice": false, "zero": false}, "axis": null}},
   "layer": [
     {"transform": [{"filter": "datum.kind==='bound'"}], "mark": {"type": "rule", "color": "#444", "strokeWidth": 0.9, "strokeDash": [1.5, 2]},
      "encoding": {"y": {"datum": 0, "type": "quantitative", "scale": {"domain": [0, 7.5], "range": [329, 148.6], "nice": false, "zero": false}, "axis": null}, "y2": {"datum": 7.5}}},
     {"transform": [{"filter": "datum.kind==='phase'"}], "mark": {"type": "text", "angle": 270, "align": "right", "baseline": "middle", "dx": 9, "fontSize": 9},
      "encoding": {"y": {"datum": 7.5, "type": "quantitative", "scale": {"domain": [0, 7.5], "range": [329, 148.6], "nice": false, "zero": false}, "axis": null}, "text": {"field": "label"}}}
   ]},
  {"data": {"name": "p3"},
   "encoding": {
     "x": {"field": "t", "type": "quantitative", "scale": {"domain": [0, 5], "range": [861.7, 1246.7], "nice": false, "zero": false}, "axis": {"orient": "bottom", "offset": -494, "values": [0, 1, 2, 3, 4, 5], "title": "t (s)", "titlePadding": -2}},
     "y": {"field": "v", "type": "quantitative", "scale": {"domain": [0, 7.5], "range": [329, 148.6], "nice": false, "zero": false}, "axis": {"orient": "left", "offset": -861.7, "values": [0, 1, 2, 3, 4, 5, 6, 7], "title": "V (m·s⁻¹ )", "titlePadding": 5}}},
   "layer": [
     {"transform": [{"filter": "datum.kind==='raw'"}], "mark": {"type": "line", "color": "#9a9a9a", "strokeWidth": 1, "interpolate": "monotone"}},
     {"transform": [{"filter": "datum.kind==='smooth'"}], "mark": {"type": "line", "color": "#000", "strokeWidth": 2.2, "interpolate": "monotone"}},
     {"transform": [{"filter": "datum.kind==='pt'"}], "mark": {"type": "point", "filled": true, "color": "#000", "size": 22, "opacity": 1}},
     {"transform": [{"filter": "datum.pos==='ur'"}], "mark": {"type": "text", "text": "V", "align": "left", "fontSize": 10.5, "dx": 2.5, "dy": -11.5}},
     {"transform": [{"filter": "datum.pos==='ur'"}], "mark": {"type": "text", "align": "left", "fontSize": 7, "dx": 10, "dy": -8.5}, "encoding": {"text": {"field": "sub"}}},
     {"transform": [{"filter": "datum.pos==='l'"}], "mark": {"type": "text", "text": "V", "align": "right", "fontSize": 10.5, "dx": -10, "dy": 2.5}},
     {"transform": [{"filter": "datum.pos==='l'"}], "mark": {"type": "text", "align": "right", "fontSize": 7, "dx": -2.5, "dy": 6}, "encoding": {"text": {"field": "sub"}}},
     {"transform": [{"filter": "datum.pos==='b'"}], "mark": {"type": "text", "text": "V", "align": "left", "fontSize": 10.5, "dx": -2, "dy": 9}},
     {"transform": [{"filter": "datum.pos==='b'"}], "mark": {"type": "text", "align": "left", "fontSize": 7, "dx": 5.5, "dy": 12}, "encoding": {"text": {"field": "sub"}}},
     {"transform": [{"filter": "datum.pos==='rd'"}], "mark": {"type": "text", "text": "V", "align": "left", "fontSize": 10.5, "dx": 12.5, "dy": -0.5}},
     {"transform": [{"filter": "datum.pos==='rd'"}], "mark": {"type": "text", "align": "left", "fontSize": 7, "dx": 20, "dy": 3}, "encoding": {"text": {"field": "sub"}}},
     {"transform": [{"filter": "datum.pos==='r'"}], "mark": {"type": "text", "text": "V", "align": "left", "fontSize": 10.5, "dx": 2.5, "dy": 1}},
     {"transform": [{"filter": "datum.pos==='r'"}], "mark": {"type": "text", "align": "left", "fontSize": 7, "dx": 10, "dy": 3.5}, "encoding": {"text": {"field": "sub"}}}
   ]},

  {"data": {"name": "table"},
   "encoding": {"x": {"field": "c", "type": "quantitative", "scale": {"domain": [0, 1, 2, 3, 4, 5, 6], "range": [40, 55, 132, 288, 477, 615, 1302], "nice": false, "zero": false}, "axis": null},
                "y": {"field": "line", "type": "quantitative", "scale": {"domain": [0, 14], "range": [387, 710], "nice": false, "zero": false}, "axis": null}},
   "layer": [
     {"transform": [{"filter": "datum.kind==='rule'"}], "mark": {"type": "rule", "color": "#1a1a1a", "strokeWidth": 1.3}, "encoding": {"x2": {"field": "c2"}}},
     {"transform": [{"filter": "datum.kind==='head'"}], "mark": {"type": "text", "align": "left", "baseline": "middle", "fontSize": 18.5, "fontWeight": "bold", "color": "#000"}, "encoding": {"text": {"field": "text"}}},
     {"transform": [{"filter": "datum.kind==='cell'"}], "mark": {"type": "text", "align": "left", "baseline": "middle", "fontSize": 18.5, "color": "#000"}, "encoding": {"text": {"field": "text"}}}
   ]},

  {"data": {"name": "caption"},
   "encoding": {"x": {"datum": 0, "type": "quantitative", "scale": {"domain": [0, 1], "range": [10, 11]}, "axis": null},
                "y": {"field": "line", "type": "quantitative", "scale": {"domain": [0, 2], "range": [768, 808], "nice": false, "zero": false}, "axis": null},
                "text": {"field": "text"}},
   "layer": [
     {"transform": [{"filter": "datum.kind==='label'"}], "mark": {"type": "text", "align": "left", "baseline": "middle", "font": "DejaVu Sans", "fontSize": 13, "color": "#555"}},
     {"transform": [{"filter": "datum.kind==='body'"}], "mark": {"type": "text", "align": "left", "baseline": "middle", "font": "DejaVu Sans", "fontSize": 16.5, "color": "#5a5a5a"}}
   ]}
]
}
